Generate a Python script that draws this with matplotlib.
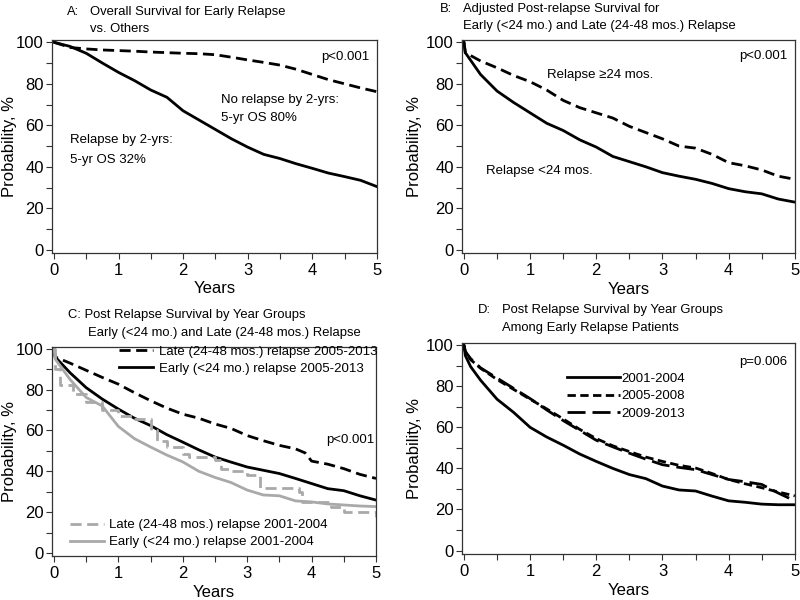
import matplotlib
matplotlib.use("Agg")
import matplotlib.pyplot as plt
from matplotlib.ticker import MultipleLocator

plt.rcParams['font.family'] = ['Liberation Sans', 'DejaVu Sans']

# ---------------- data ----------------
# Panel A
a_t = [0, 0.25, 0.5, 0.75, 1, 1.25, 1.5, 1.75, 2, 2.25, 2.5, 2.75, 3, 3.25, 3.5, 3.75, 4, 4.25, 4.5, 4.75, 5]
a_early = [100, 98, 94.7, 90, 85.5, 81.5, 77, 73.5, 67, 62.5, 58, 53.5, 49.5, 46, 44, 41.5, 39.3, 37, 35.3, 33.5, 30.5]
a_none = [100, 97.5, 96.8, 96.3, 96, 95.7, 95.3, 95, 94.7, 94.5, 94, 92.8, 91.5, 90.3, 89, 87, 84.5, 82, 80, 78, 76.2]

# Panel B
b_t = [0, 0.02, 0.25, 0.5, 0.75, 1, 1.25, 1.5, 1.75, 2, 2.25, 2.5, 2.75, 3, 3.25, 3.5, 3.75, 4, 4.25, 4.5, 4.75, 5]
b_early = [100, 95, 84.5, 76.5, 71, 66, 61, 57.5, 53, 49.5, 45, 42.5, 40, 37.2, 35.5, 34, 32, 29.5, 28, 27, 24.5, 23]
b_late = [100, 95, 91, 87.7, 84, 81, 77, 72, 68.5, 66, 63.5, 59.5, 56.5, 53.5, 50, 49, 46, 42, 40.5, 38.5, 35.5, 34]

# Panel C
c_t_late05 = [0, 0.02, 0.25, 0.5, 0.75, 1, 1.25, 1.5, 1.75, 2, 2.25, 2.5, 2.75, 3, 3.25, 3.5, 3.75, 3.9, 4, 4.25, 4.5, 4.75, 5]
c_late05 = [100, 96, 93, 89.5, 86, 82.7, 78.5, 74.6, 71, 68, 66, 63.2, 61, 57.5, 55, 52.7, 51, 49, 45, 43.5, 41.3, 38.5, 36.5]
c_t = [0, 0.02, 0.25, 0.5, 0.75, 1, 1.25, 1.5, 1.75, 2, 2.25, 2.5, 2.75, 3, 3.25, 3.5, 3.75, 4, 4.25, 4.5, 4.75, 5]
c_early05 = [100, 96, 88.3, 81, 75.4, 70.5, 66, 62.4, 58, 54.3, 50.5, 47, 44.5, 42.1, 40.5, 38.9, 36.5, 34, 31.5, 30.5, 28, 25.9]
c_early01 = [100, 95, 85, 76.2, 72, 62, 56, 51.9, 48, 44.6, 40, 37, 34.5, 30.8, 28.4, 28, 25.5, 25, 24, 23.5, 23, 22.7]
c_t_late01 = [0, 0.02, 0.1, 0.3, 0.5, 0.75, 1.0, 1.25, 1.5, 1.6, 1.75, 2.0, 2.1, 2.5, 2.6, 2.75, 3.0, 3.2, 3.5, 3.8, 3.85, 4.3, 4.5, 5]
c_late01 = [100, 90, 82.5, 78, 74, 70, 67, 65.6, 60, 55, 52, 48.6, 47, 45.4, 41.3, 40, 38, 32, 31.6, 30, 25, 22.7, 20.3, 17.8]

# Panel D
d_t = [0, 0.02, 0.1, 0.25, 0.5, 0.75, 1, 1.25, 1.5, 1.75, 2, 2.25, 2.5, 2.75, 3, 3.25, 3.5, 3.75, 4, 4.25, 4.5, 4.75, 5]
d_0104 = [100, 95, 89.6, 83, 73.7, 67.3, 60, 55.3, 51.3, 47, 43.4, 40, 37, 35, 31.4, 29.5, 29, 26.5, 24.2, 23.5, 22.6, 22.3, 22.3]
d_0508 = [100, 97, 93, 88.8, 83.3, 78.5, 73.7, 69, 64.1, 59, 54.5, 51, 48.2, 45.5, 43.4, 41.5, 40.2, 37.5, 34.6, 32.5, 30.6, 28.5, 26.6]
d_0913 = [100, 97, 93.5, 89, 84, 79, 74, 68.5, 63.3, 58.5, 53.7, 50.5, 47.4, 44.5, 41.8, 40.5, 39.4, 37, 34.6, 33.5, 32.2, 28, 24.2]

x_ticks = [0, 1, 2, 3, 4, 5]
y_ticks = [0, 20, 40, 60, 80, 100]

GRAY = '#a9a9a9'
LW = 2.0
TFS = 9.4   # title font size
AFS = 9.5   # annotation font size
LFS = 12    # tick/axis label font size

fig = plt.figure(figsize=(8, 6), dpi=100)

def make_ax(rect, ylab_x, xlab_y):
    ax = fig.add_axes(rect)
    ax.set_xlim(-0.03, 5.0)
    ax.set_ylim(-1.6, 101)
    ax.set_xticks(x_ticks)
    ax.set_yticks(y_ticks)
    ax.xaxis.set_minor_locator(MultipleLocator(0.5))
    ax.yaxis.set_minor_locator(MultipleLocator(10))
    ax.tick_params(which='both', direction='out', length=4, width=0.8, color='#333333')
    ax.tick_params(which='major', labelsize=LFS)
    ax.tick_params(axis='x', which='major', pad=3)
    ax.tick_params(axis='y', which='major', pad=2)
    for s in ax.spines.values():
        s.set_linewidth(0.9)
        s.set_color('#333333')
    ax.set_xlabel('Years', fontsize=LFS, va='center')
    ax.set_ylabel('Probability, %', fontsize=LFS, va='center')
    ax.xaxis.set_label_coords(0.5, xlab_y)
    ax.yaxis.set_label_coords(ylab_x, 0.5)
    return ax

# ---------- A ----------
axA = make_ax([0.065, 0.578, 0.406, 0.355], -0.13, -0.165)
axA.plot(a_t, a_early, color='black', lw=LW)
axA.plot(a_t, a_none, color='black', lw=LW, dashes=(4, 2))
axA.text(4.14, 93, 'p<0.001', fontsize=AFS, va='center')
axA.text(2.59, 72.2, 'No relapse by 2-yrs:', fontsize=AFS, va='center')
axA.text(2.59, 63.4, '5-yr OS 80%', fontsize=AFS, va='center')
axA.text(0.25, 53, 'Relapse by 2-yrs:', fontsize=AFS, va='center')
axA.text(0.25, 43.3, '5-yr OS 32%', fontsize=AFS, va='center')
fig.text(67/800, 1 - 12/600, 'A:', fontsize=TFS, va='center')
fig.text(90/800, 1 - 12/600, 'Overall Survival for Early Relapse', fontsize=TFS, va='center')
fig.text(90/800, 1 - 29/600, 'vs. Others', fontsize=TFS, va='center')

# ---------- B ----------
axB = make_ax([0.5775, 0.578, 0.416, 0.355], -0.144, -0.17)
axB.plot(b_t, b_early, color='black', lw=LW)
axB.plot(b_t, b_late, color='black', lw=LW, dashes=(4, 2))
axB.text(4.16, 93.3, 'p<0.001', fontsize=AFS, va='center')
axB.text(1.25, 84, 'Relapse \u226524 mos.', fontsize=AFS, va='center')
axB.text(0.33, 38, 'Relapse <24 mos.', fontsize=AFS, va='center')
fig.text(440/800, 1 - 9/600, 'B:', fontsize=TFS, va='center')
fig.text(463/800, 1 - 9/600, 'Adjusted Post-relapse Survival for', fontsize=TFS, va='center')
fig.text(463/800, 1 - 26/600, 'Early (<24 mo.) and Late (24-48 mos.) Relapse', fontsize=TFS, va='center')

# ---------- C ----------
axC = make_ax([0.065, 0.073, 0.405, 0.349], -0.13, -0.175)
l1, = axC.plot(c_t_late05, c_late05, color='black', lw=LW, dashes=(4, 2))
l2, = axC.plot(c_t, c_early05, color='black', lw=LW)
l3, = axC.plot(c_t_late01, c_late01, color=GRAY, lw=LW, dashes=(4, 2), drawstyle='steps-post')
l4, = axC.plot(c_t, c_early01, color=GRAY, lw=LW)
axC.text(4.22, 55.1, 'p<0.001', fontsize=AFS, va='center')
leg1 = axC.legend([l1, l2], ['Late (24-48 mos.) relapse 2005-2013', 'Early (<24 mo.) relapse 2005-2013'],
                  loc='upper right', bbox_to_anchor=(1.02, 1.03), frameon=False, fontsize=AFS,
                  handlelength=2.6, handletextpad=0.4, labelspacing=0.35, borderaxespad=0)
axC.add_artist(leg1)
axC.legend([l3, l4], ['Late (24-48 mos.) relapse 2001-2004', 'Early (<24 mo.) relapse 2001-2004'],
           loc='lower left', bbox_to_anchor=(0.03, 0.0), frameon=False, fontsize=AFS,
           handlelength=2.6, handletextpad=0.4, labelspacing=0.35, borderaxespad=0.2)
fig.text(68/800, 1 - 315/600, 'C: Post Relapse Survival by Year Groups', fontsize=TFS, va='center')
fig.text(88/800, 1 - 333/600, 'Early (<24 mo.) and Late (24-48 mos.) Relapse', fontsize=TFS, va='center')

# ---------- D ----------
axD = make_ax([0.5775, 0.077, 0.416, 0.351], -0.144, -0.175)
m1, = axD.plot(d_t, d_0104, color='black', lw=LW)
m2, = axD.plot(d_t, d_0508, color='black', lw=LW, dashes=(3, 1.6))
m3, = axD.plot(d_t, d_0913, color='black', lw=LW, dashes=(6.5, 2.5))
axD.text(4.16, 92, 'p=0.006', fontsize=AFS, va='center')
axD.legend([m1, m2, m3], ['2001-2004', '2005-2008', '2009-2013'],
           loc='upper left', bbox_to_anchor=(0.30, 0.885), frameon=False, fontsize=AFS,
           handlelength=4.0, handletextpad=0.1, labelspacing=0.4, borderaxespad=0)
fig.text(478/800, 1 - 310/600, 'D:', fontsize=TFS, va='center')
fig.text(502/800, 1 - 310/600, 'Post Relapse Survival by Year Groups', fontsize=TFS, va='center')
fig.text(502/800, 1 - 328/600, 'Among Early Relapse Patients', fontsize=TFS, va='center')

fig.savefig('out.png', dpi=100)
